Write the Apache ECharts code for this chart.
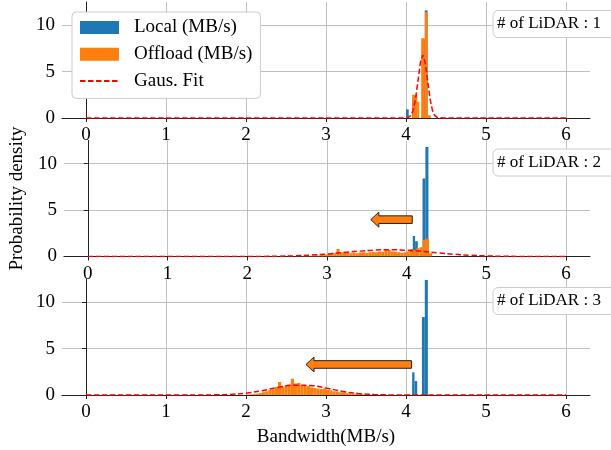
<!DOCTYPE html>
<html>
<head>
<meta charset="utf-8">
<script src="https://cdn.jsdelivr.net/npm/echarts@6/dist/echarts.min.js"></script>
<style>html,body{margin:0;padding:0;background:#fff}#c{width:611px;height:450px}</style>
</head>
<body>
<div id="c"></div>
<script>
// ---- data ----
const xTicks = [0, 1, 2, 3, 4, 5, 6];
const yTicks = [0, 5, 10];
const panelLabels = ['# of LiDAR : 1', '# of LiDAR : 2', '# of LiDAR : 3'];

// histogram bars: [binStart, binEnd, density]
const local1 = [[4.00,4.034,0.93],[4.077,4.106,2.0],[4.106,4.14,1.5],[4.199,4.235,8.4],[4.235,4.27,11.6]];
const local2 = [[4.077,4.106,2.2],[4.106,4.14,1.65],[4.199,4.235,8.4],[4.235,4.273,11.8]];
const local3 = [[4.077,4.106,2.45],[4.106,4.14,1.5],[4.199,4.235,8.4],[4.235,4.273,12.4]];
const offload1 = [[4.077,4.14,2.5],[4.14,4.165,1.75],[4.19,4.235,8.6],[4.235,4.27,11.4],[4.27,4.31,0.3]];

// offload histograms of panels 2 and 3: first bin start, bin width, densities
const offloadBinWidth = 0.04;
const offload2Start = 2.60;
const offload2 = [0.03,0.03,0.05,0.05,0.08,0.08,0.1,0.12,0.15,0.2,
                  0.28,0.3,0.35,0.82,0.45,0.5,0.4,0.35,0.4,0.35,
                  0.42,0.45,0.4,0.45,0.5,0.45,0.55,0.5,0.75,0.7,
                  0.55,0.5,0.45,0.4,0.45,0.55,0.8,0.7,0.9,1.0,
                  1.8,1.9,0.36];
const offload3Start = 2.00;
const offload3 = [0.05,0.08,0.1,0.15,0.2,0.3,0.4,0.55,0.6,0.85,
                  1.4,0.9,1.0,1.1,1.75,1.25,1.3,1.05,1.0,0.95,
                  0.8,0.75,0.7,0.65,0.7,0.55,0.5,0.4,0.35,0.3,
                  0.3,0.2,0.2,0.15,0.12,0.1,0.08,0.06,0.05,0.03,
                  0,0,0.1];

// Gaussian fit curves, [x, density]
const fit1 = [[0,0],[3.95,0],[4.03,0.06],[4.06,0.26],[4.09,0.84],[4.12,2.1],[4.15,4.03],[4.18,5.97],[4.21,6.8],[4.24,5.97],[4.27,4.03],[4.30,2.1],[4.33,0.84],[4.36,0.26],[4.39,0.06],[4.47,0],[6,0]];
const fit2 = [[0,0],[1.6,0],[2.0,0.004],[2.2,0.012],[2.4,0.031],[2.6,0.073],[2.8,0.148],[3.0,0.265],[3.2,0.416],[3.4,0.571],[3.6,0.687],[3.8,0.725],[4.0,0.669],[4.2,0.542],[4.4,0.384],[4.6,0.239],[4.8,0.130],[5.0,0.062],[5.2,0.026],[5.4,0.009],[5.6,0.003],[6,0]];
const fit3 = [[0,0],[1.2,0],[1.4,0.003],[1.6,0.015],[1.8,0.064],[2.0,0.2],[2.2,0.466],[2.4,0.81],[2.6,1.055],[2.8,1.025],[3.0,0.743],[3.2,0.402],[3.4,0.163],[3.6,0.049],[3.8,0.011],[4.0,0.002],[4.4,0],[6,0]];

// arrows: [tailX, tipX, y]
const arrow2 = [[4.07, 3.55, 3.97]];
const arrow3 = [[4.07, 2.75, 3.29]];

// ---- build chart ----
const FONT = "'Liberation Serif', 'DejaVu Serif', serif";
const BLUE = '#1f77b4', ORANGE = '#ff7f0e';
function toBins(start, w, arr) { return arr.map((h, i) => [start + i * w, start + (i + 1) * w, h]); }

const locals = [local1, local2, local3];
const offloads = [offload1, toBins(offload2Start, offloadBinWidth, offload2), toBins(offload3Start, offloadBinWidth, offload3)];
const fits = [fit1, fit2, fit3];
const arrows = [null, arrow2, arrow3];

const tops = [2, 140.5, 279];
const H = 116;

function histItem(params, api) {
  const p0 = api.coord([api.value(0), api.value(2)]);
  const p1 = api.coord([api.value(1), 0]);
  return { type: 'rect', shape: { x: p0[0], y: p0[1], width: p1[0] - p0[0], height: p1[1] - p0[1] },
           style: { fill: api.visual('color') } };
}
function arrowItem(params, api) {
  const tail = api.coord([api.value(0), api.value(2)]);
  const tip = api.coord([api.value(1), api.value(2)]);
  const bh = 3.8, hh = 7.5, hl = 8, y = tail[1];
  return { type: 'polygon', shape: { points: [
      [tail[0], y - bh], [tip[0] + hl, y - bh], [tip[0] + hl, y - hh], [tip[0], y],
      [tip[0] + hl, y + hh], [tip[0] + hl, y + bh], [tail[0], y + bh]] },
    style: { fill: ORANGE, stroke: '#222', lineWidth: 1 } };
}

const grids = [], xAxes = [], yAxes = [], series = [];
for (let i = 0; i < 3; i++) {
  grids.push({ left: 62, right: 21, top: tops[i], height: H });
  xAxes.push({
    gridIndex: i, type: 'value', min: -0.3, max: 6.3,
    axisLine: { show: true, onZero: false, lineStyle: { color: '#222', width: 1 } },
    axisTick: { show: true, length: 4, inside: false, customValues: xTicks, lineStyle: { color: '#222', width: 1 } },
    axisLabel: { customValues: xTicks, fontSize: 19, fontFamily: FONT, color: '#000', margin: 8 },
    splitLine: { show: true, lineStyle: { color: '#b0b0b0', width: 0.8 } },
    name: i === 2 ? 'Bandwidth(MB/s)' : '', nameLocation: 'middle', nameGap: 33,
    nameTextStyle: { fontSize: 19, fontFamily: FONT, color: '#000' }
  });
  yAxes.push({
    gridIndex: i, type: 'value', min: 0, max: 12.5,
    axisLine: { show: true, lineStyle: { color: '#222', width: 1 } },
    axisTick: { show: true, length: 4, customValues: yTicks, lineStyle: { color: '#222', width: 1 } },
    axisLabel: { customValues: yTicks, fontSize: 19, fontFamily: FONT, color: '#000', margin: 7 },
    splitLine: { show: true, lineStyle: { color: '#b0b0b0', width: 0.8 } },
    name: i === 1 ? 'Probability density' : '', nameLocation: 'middle', nameGap: 31,
    nameTextStyle: { fontSize: 19, fontFamily: FONT, color: '#000' }
  });
  series.push({ type: 'custom', name: 'Local (MB/s)', xAxisIndex: i, yAxisIndex: i, clip: true, z: 2,
    itemStyle: { color: BLUE }, encode: { x: [0, 1], y: 2 }, renderItem: histItem, data: locals[i] });
  series.push({ type: 'custom', name: 'Offload (MB/s)', xAxisIndex: i, yAxisIndex: i, clip: true, z: 3,
    itemStyle: { color: ORANGE }, encode: { x: [0, 1], y: 2 }, renderItem: histItem, data: offloads[i] });
  series.push({ type: 'line', name: 'Gaus. Fit', xAxisIndex: i, yAxisIndex: i, z: 4,
    symbol: 'none', showSymbol: false, smooth: i === 0 ? false : 0.5,
    itemStyle: { color: '#ff0000' },
    lineStyle: { color: '#ff0000', width: 1.5, type: [5.5, 2.5] }, data: fits[i] });
  if (arrows[i]) {
    series.push({ type: 'custom', xAxisIndex: i, yAxisIndex: i, z: 5, clip: false,
      encode: { x: [0, 1], y: 2 }, renderItem: arrowItem, data: arrows[i] });
  }
}

const graphics = [];
for (let i = 0; i < 3; i++) {
  const y0 = tops[i] + 8.5;
  graphics.push({ type: 'rect', z: 100, shape: { x: 493, y: y0, width: 140, height: 27, r: 5 },
    style: { fill: '#fff', stroke: '#cccccc', lineWidth: 1 } });
  graphics.push({ type: 'text', z: 101, x: 497, y: y0 + 13.5,
    style: { text: panelLabels[i], font: '17px ' + FONT, fill: '#000', verticalAlign: 'middle', align: 'left' } });
}

const chart = echarts.init(document.getElementById('c'), null, { renderer: 'canvas' });
chart.setOption({
  animation: false,
  grid: grids, xAxis: xAxes, yAxis: yAxes, series: series,
  legend: {
    orient: 'vertical', left: 72, top: 12, z: 50,
    data: [{ name: 'Local (MB/s)', icon: 'rect' }, { name: 'Offload (MB/s)', icon: 'rect' },
           { name: 'Gaus. Fit', itemStyle: { opacity: 0 } }],
    itemWidth: 39, itemHeight: 13, itemGap: 7.7,
    padding: [6, 8, 8, 7],
    backgroundColor: '#fff', borderColor: '#cccccc', borderWidth: 1, borderRadius: 4,
    textStyle: { fontSize: 19, fontFamily: FONT, color: '#000', padding: [0, 0, 0, 10] }
  },
  graphic: graphics
});
</script>
</body>
</html>
